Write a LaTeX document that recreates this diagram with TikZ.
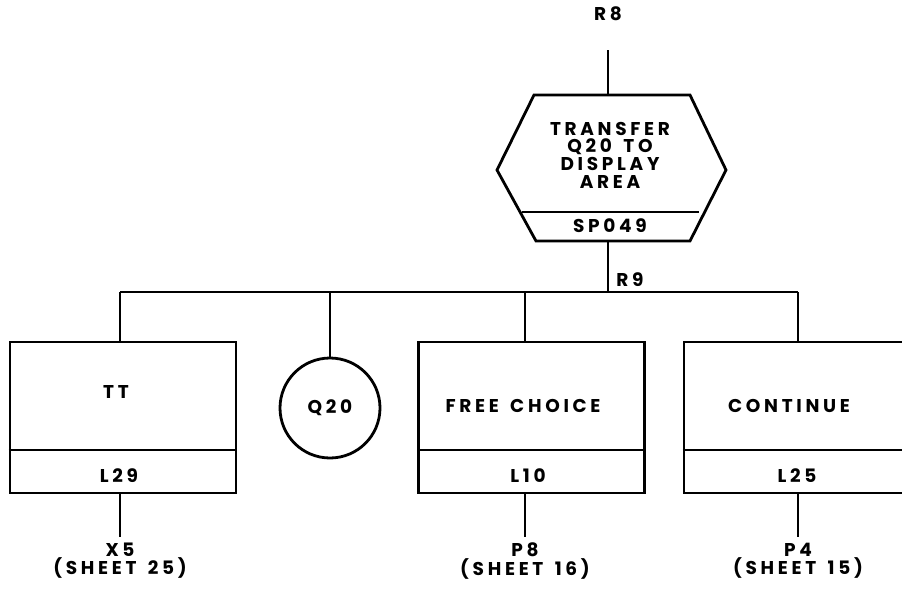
\documentclass[tikz,border=0pt]{standalone}
\usepackage{fontspec}
\setmainfont{Poppins}[LetterSpace=20,WordSpace=1.5]
\usetikzlibrary{calc}
\begin{document}
\begin{tikzpicture}[x=1pt,y=-1pt,line width=2.8pt,
  lbl/.style={font=\fontsize{18.5}{17.7}\selectfont\bfseries, inner sep=0pt, align=center},
  box/.style={draw, rectangle, minimum width=226pt, minimum height=151pt, inner sep=0pt},
  sheet/.style={lbl, font=\fontsize{18.5}{16.5}\selectfont\bfseries}]
\path[use as bounding box] (0,0) rectangle (902,592);
\clip (0,0) rectangle (902,592);
% top
\node[lbl] (r8) at (608,14) {R8};
\coordinate (r8end) at (608,50);
% hexagon
\coordinate (htl) at (534,95);
\coordinate (htr) at (690,95);
\coordinate (hr) at (726,170);
\coordinate (hbr) at (690,241);
\coordinate (hbl) at (536,241);
\coordinate (hl) at (497,170);
\coordinate (htop) at (608,95);
\coordinate (hbot) at (608,241);
\draw[line join=miter] (htl) -- (htr) -- (hr) -- (hbr) -- (hbl) -- (hl) -- cycle;
\draw (522,212) -- (699,212);
\node[lbl] (hext) at (610,155) {TRANSFER\\Q20 TO\\DISPLAY\\AREA};
\node[lbl] (sp) at (610,226) {SP049};
\draw (r8end) -- (htop);
% bus
\coordinate (bus) at (608,292);
\coordinate (j1) at (120,292);
\coordinate (j2) at (330,292);
\coordinate (j3) at (525,292);
\coordinate (j4) at (798,292);
\draw (hbot) -- (bus);
\node[lbl, anchor=west] (r9) at (615,280) {R9};
\draw (j1) -- (j4);
% boxes
\node[box] (b1) at (123,417.5) {};
\node[box] (b2) at (531.5,417.5) {};
\node[box] (b3) at (797,417.5) {};
\draw (b1.west |- 0,450) -- (b1.east |- 0,450);
\draw (b2.west |- 0,450) -- (b2.east |- 0,450);
\draw (b3.west |- 0,450) -- (b3.east |- 0,450);
\node[draw, circle, minimum size=100pt, inner sep=0pt] (c) at (330,408) {};
\node[lbl] (q20) at (c) {Q20};
\node[lbl] (tt) at (116,392) {TT};
\node[lbl] (l29) at (119,476) {L29};
\node[lbl] (fc) at (523,406) {FREE CHOICE};
\node[lbl] (l10) at (528,476) {L10};
\node[lbl] (cont) at (789,406) {CONTINUE};
\node[lbl] (l25) at (797,476) {L25};
\draw (j1) -- (j1 |- b1.north);
\draw (j2) -- (c.north);
\draw (j3) -- (j3 |- b2.north);
\draw (j4) -- (j4 |- b3.north);
% exits
\coordinate (e1) at (120,537);
\coordinate (e2) at (525,537);
\coordinate (e3) at (798,537);
\draw (e1 |- b1.south) -- (e1);
\draw (e2 |- b2.south) -- (e2);
\draw (e3 |- b3.south) -- (e3);
\node[sheet] (x5) at (120,561) {X5\\(SHEET 25)};
\node[sheet] (p8) at (525,561) {P8\\(SHEET 16)};
\node[sheet] (p4) at (798,561) {P4\\(SHEET 15)};
\end{tikzpicture}
\end{document}
